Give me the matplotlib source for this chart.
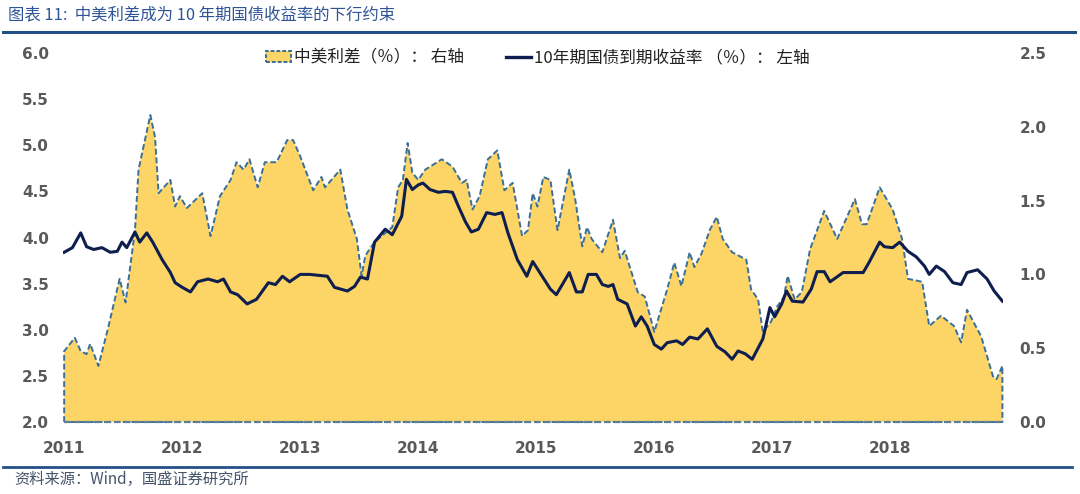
import matplotlib
matplotlib.use("Agg")
import matplotlib.pyplot as plt
from matplotlib.patches import Patch
from matplotlib.lines import Line2D
import numpy as np

plt.rcParams['font.family'] = ['Noto Sans CJK SC', 'DejaVu Sans']

# ---- data (decimal year, value) ----
spread_t = [2011.00, 2011.09, 2011.14, 2011.19, 2011.22, 2011.29, 2011.37, 2011.47, 2011.52, 2011.60,
            2011.63, 2011.73, 2011.77, 2011.80, 2011.90, 2011.94, 2011.98, 2012.04, 2012.17, 2012.24,
            2012.32, 2012.41, 2012.46, 2012.52, 2012.57, 2012.64, 2012.70, 2012.80, 2012.89, 2012.94,
            2013.00, 2013.11, 2013.18, 2013.21, 2013.34, 2013.40, 2013.48, 2013.52, 2013.55, 2013.57,
            2013.63, 2013.72, 2013.78, 2013.83, 2013.87, 2013.91, 2013.95, 2014.00, 2014.06, 2014.20,
            2014.29, 2014.37, 2014.41, 2014.46, 2014.52, 2014.59, 2014.67, 2014.73, 2014.80, 2014.88,
            2014.93, 2014.97, 2015.01, 2015.06, 2015.12, 2015.18, 2015.28, 2015.33, 2015.39, 2015.43,
            2015.47, 2015.56, 2015.65, 2015.71, 2015.75, 2015.86, 2015.92, 2016.00, 2016.11, 2016.17,
            2016.23, 2016.30, 2016.34, 2016.40, 2016.47, 2016.53, 2016.58, 2016.66, 2016.78, 2016.82,
            2016.88, 2016.92, 2016.99, 2017.04, 2017.10, 2017.13, 2017.19, 2017.25, 2017.32, 2017.38,
            2017.44, 2017.55, 2017.70, 2017.76, 2017.80, 2017.91, 2018.02, 2018.10, 2018.15, 2018.27,
            2018.33, 2018.43, 2018.54, 2018.60, 2018.65, 2018.77, 2018.87, 2018.90, 2018.95]
spread_v = [0.48, 0.57, 0.48, 0.46, 0.53, 0.38, 0.63, 0.97, 0.81, 1.30,
            1.71, 2.08, 1.93, 1.55, 1.64, 1.46, 1.53, 1.45, 1.55, 1.26,
            1.53, 1.64, 1.76, 1.71, 1.78, 1.59, 1.76, 1.76, 1.91, 1.91,
            1.80, 1.57, 1.66, 1.59, 1.71, 1.44, 1.24, 0.99, 1.12, 1.15,
            1.22, 1.28, 1.32, 1.59, 1.64, 1.89, 1.69, 1.64, 1.71, 1.78,
            1.73, 1.62, 1.64, 1.44, 1.53, 1.78, 1.84, 1.57, 1.62, 1.26,
            1.30, 1.55, 1.46, 1.66, 1.64, 1.30, 1.71, 1.51, 1.19, 1.32,
            1.24, 1.15, 1.37, 1.11, 1.16, 0.88, 0.85, 0.61, 0.90, 1.08,
            0.92, 1.15, 1.05, 1.14, 1.30, 1.39, 1.24, 1.15, 1.10, 0.90,
            0.83, 0.61, 0.68, 0.78, 0.85, 0.99, 0.83, 0.88, 1.17, 1.30,
            1.43, 1.24, 1.51, 1.34, 1.34, 1.59, 1.44, 1.24, 0.97, 0.95,
            0.65, 0.72, 0.65, 0.54, 0.76, 0.58, 0.31, 0.29, 0.38]

yield_t = [2011.00, 2011.07, 2011.14, 2011.19, 2011.25, 2011.32, 2011.39, 2011.45, 2011.49, 2011.53,
           2011.60, 2011.64, 2011.70, 2011.75, 2011.83, 2011.90, 2011.94, 2012.00, 2012.07, 2012.13,
           2012.22, 2012.30, 2012.35, 2012.41, 2012.47, 2012.55, 2012.63, 2012.73, 2012.79, 2012.85,
           2012.91, 2013.00, 2013.08, 2013.23, 2013.29, 2013.40, 2013.46, 2013.51, 2013.57, 2013.63,
           2013.72, 2013.78, 2013.86, 2013.90, 2013.95, 2014.00, 2014.04, 2014.10, 2014.17, 2014.23,
           2014.29, 2014.34, 2014.40, 2014.45, 2014.51, 2014.58, 2014.65, 2014.71, 2014.76, 2014.84,
           2014.92, 2014.97, 2015.05, 2015.12, 2015.17, 2015.23, 2015.28, 2015.34, 2015.39, 2015.44,
           2015.51, 2015.56, 2015.61, 2015.65, 2015.69, 2015.77, 2015.84, 2015.89, 2015.94, 2016.00,
           2016.06, 2016.11, 2016.19, 2016.24, 2016.30, 2016.37, 2016.45, 2016.53, 2016.60, 2016.66,
           2016.71, 2016.77, 2016.83, 2016.92, 2016.98, 2017.02, 2017.08, 2017.12, 2017.17, 2017.26,
           2017.33, 2017.38, 2017.44, 2017.49, 2017.60, 2017.68, 2017.77, 2017.82, 2017.91, 2017.95,
           2018.02, 2018.08, 2018.15, 2018.22, 2018.29, 2018.33, 2018.39, 2018.46, 2018.53, 2018.60,
           2018.65, 2018.74, 2018.82, 2018.88, 2018.95]
yield_v = [3.84, 3.89, 4.05, 3.90, 3.87, 3.89, 3.84, 3.85, 3.95, 3.89,
           4.06, 3.95, 4.05, 3.95, 3.76, 3.62, 3.51, 3.46, 3.41, 3.52,
           3.55, 3.52, 3.55, 3.41, 3.38, 3.28, 3.33, 3.51, 3.49, 3.58,
           3.52, 3.60, 3.60, 3.58, 3.46, 3.42, 3.47, 3.57, 3.55, 3.95,
           4.09, 4.03, 4.23, 4.63, 4.52, 4.57, 4.59, 4.52, 4.49, 4.50,
           4.49, 4.34, 4.17, 4.06, 4.09, 4.27, 4.25, 4.27, 4.05, 3.76,
           3.58, 3.74, 3.58, 3.44, 3.38, 3.51, 3.62, 3.41, 3.41, 3.60,
           3.60, 3.49, 3.47, 3.49, 3.33, 3.28, 3.04, 3.14, 3.04, 2.84,
           2.79, 2.86, 2.88, 2.84, 2.92, 2.90, 3.01, 2.82, 2.76, 2.68,
           2.77, 2.74, 2.68, 2.90, 3.24, 3.14, 3.28, 3.42, 3.31, 3.30,
           3.44, 3.63, 3.63, 3.52, 3.62, 3.62, 3.62, 3.73, 3.95, 3.90,
           3.89, 3.95, 3.85, 3.79, 3.69, 3.60, 3.69, 3.63, 3.51, 3.49,
           3.62, 3.65, 3.55, 3.42, 3.31]

year_ticks = [2011, 2012, 2013, 2014, 2015, 2016, 2017, 2018]
left_ticks = [2.0, 2.5, 3.0, 3.5, 4.0, 4.5, 5.0, 5.5, 6.0]
right_ticks = [0.0, 0.5, 1.0, 1.5, 2.0, 2.5]

legend_spread = "中美利差（％）： 右轴"
legend_yield = "10年期国债到期收益率 （％）： 左轴"
title_text = "图表 11:  中美利差成为 10 年期国债收益率的下行约束"
source_text = "资料来源：Wind，国盛证券研究所"

# ---- style ----
FILL = "#FDD567"
EDGE = "#3A6F98"
NAVY = "#0E1E4E"
TICKC = "#595959"
BLUE_LINE = "#24508A"

W, H = 1080, 494
fig = plt.figure(figsize=(W / 100, H / 100), dpi=100)
ax = fig.add_axes([63 / W, 1 - 422 / H, (1003 - 63) / W, (422 - 53) / H])
ax2 = ax.twinx()

ax2.fill_between(spread_t, spread_v, 0, facecolor=FILL, edgecolor=EDGE,
                 linestyle=(0, (3, 1.5)), linewidth=1.4, zorder=1, clip_on=False)
ax2.plot([spread_t[0], spread_t[-1]], [0, 0], color="#5A7D9A", linestyle=(0, (3, 1.5)),
         linewidth=1.6, zorder=2, clip_on=False)
ax.plot(yield_t, yield_v, color=NAVY, linewidth=2.2, zorder=3)

ax.set_zorder(ax2.get_zorder() + 1)
ax.patch.set_visible(False)

ax.set_xlim(2010.99, 2018.955)
ax.set_ylim(2.0, 6.0)
ax2.set_ylim(0.0, 2.5)

ax.set_xticks(year_ticks)
ax.set_xticklabels([str(y) for y in year_ticks])
ax.set_yticks(left_ticks)
ax.set_yticklabels([f"{v:.1f}" for v in left_ticks])
ax2.set_yticks(right_ticks)
ax2.set_yticklabels([f"{v:.1f}" for v in right_ticks])

for a in (ax, ax2):
    for s in a.spines.values():
        s.set_visible(False)

ax.tick_params(axis='x', length=0, pad=14, labelsize=11, labelcolor=TICKC)
ax.tick_params(axis='y', length=0, pad=10, labelsize=11, labelcolor=TICKC)
ax2.tick_params(axis='y', length=0, pad=12, labelsize=11, labelcolor=TICKC)
for lab in ax.get_xticklabels() + ax.get_yticklabels() + ax2.get_yticklabels():
    lab.set_fontweight('bold')
    lab.set_family(['DejaVu Sans'])

handles = [Patch(facecolor=FILL, edgecolor=EDGE, linestyle=(0, (2, 1)), linewidth=1.4),
           Line2D([0], [0], color=NAVY, linewidth=2.4)]
fig.legend(handles, [legend_spread, legend_yield], loc='center',
           bbox_to_anchor=(538 / W, 1 - 58 / H), ncol=2, frameon=False,
           fontsize=12, handlelength=1.5, handletextpad=0.2, columnspacing=2.5,
           labelcolor="#222222")

# title, rules, source
fig.text(8 / W, 1 - 15 / H, title_text, fontsize=11.8, color="#2F5597",
         va='center', ha='left', style='italic')
fig.add_artist(Line2D([3 / W, 1075 / W], [1 - 32 / H, 1 - 32 / H], color=BLUE_LINE,
                      linewidth=2.2, transform=fig.transFigure))
fig.add_artist(Line2D([3 / W, 1072 / W], [1 - 467 / H, 1 - 467 / H], color=BLUE_LINE,
                      linewidth=2.0, transform=fig.transFigure))
fig.text(14 / W, 1 - 479 / H, source_text, fontsize=11, color="#44546A",
         va='center', ha='left', style='italic')

fig.savefig("out.png", dpi=100)
